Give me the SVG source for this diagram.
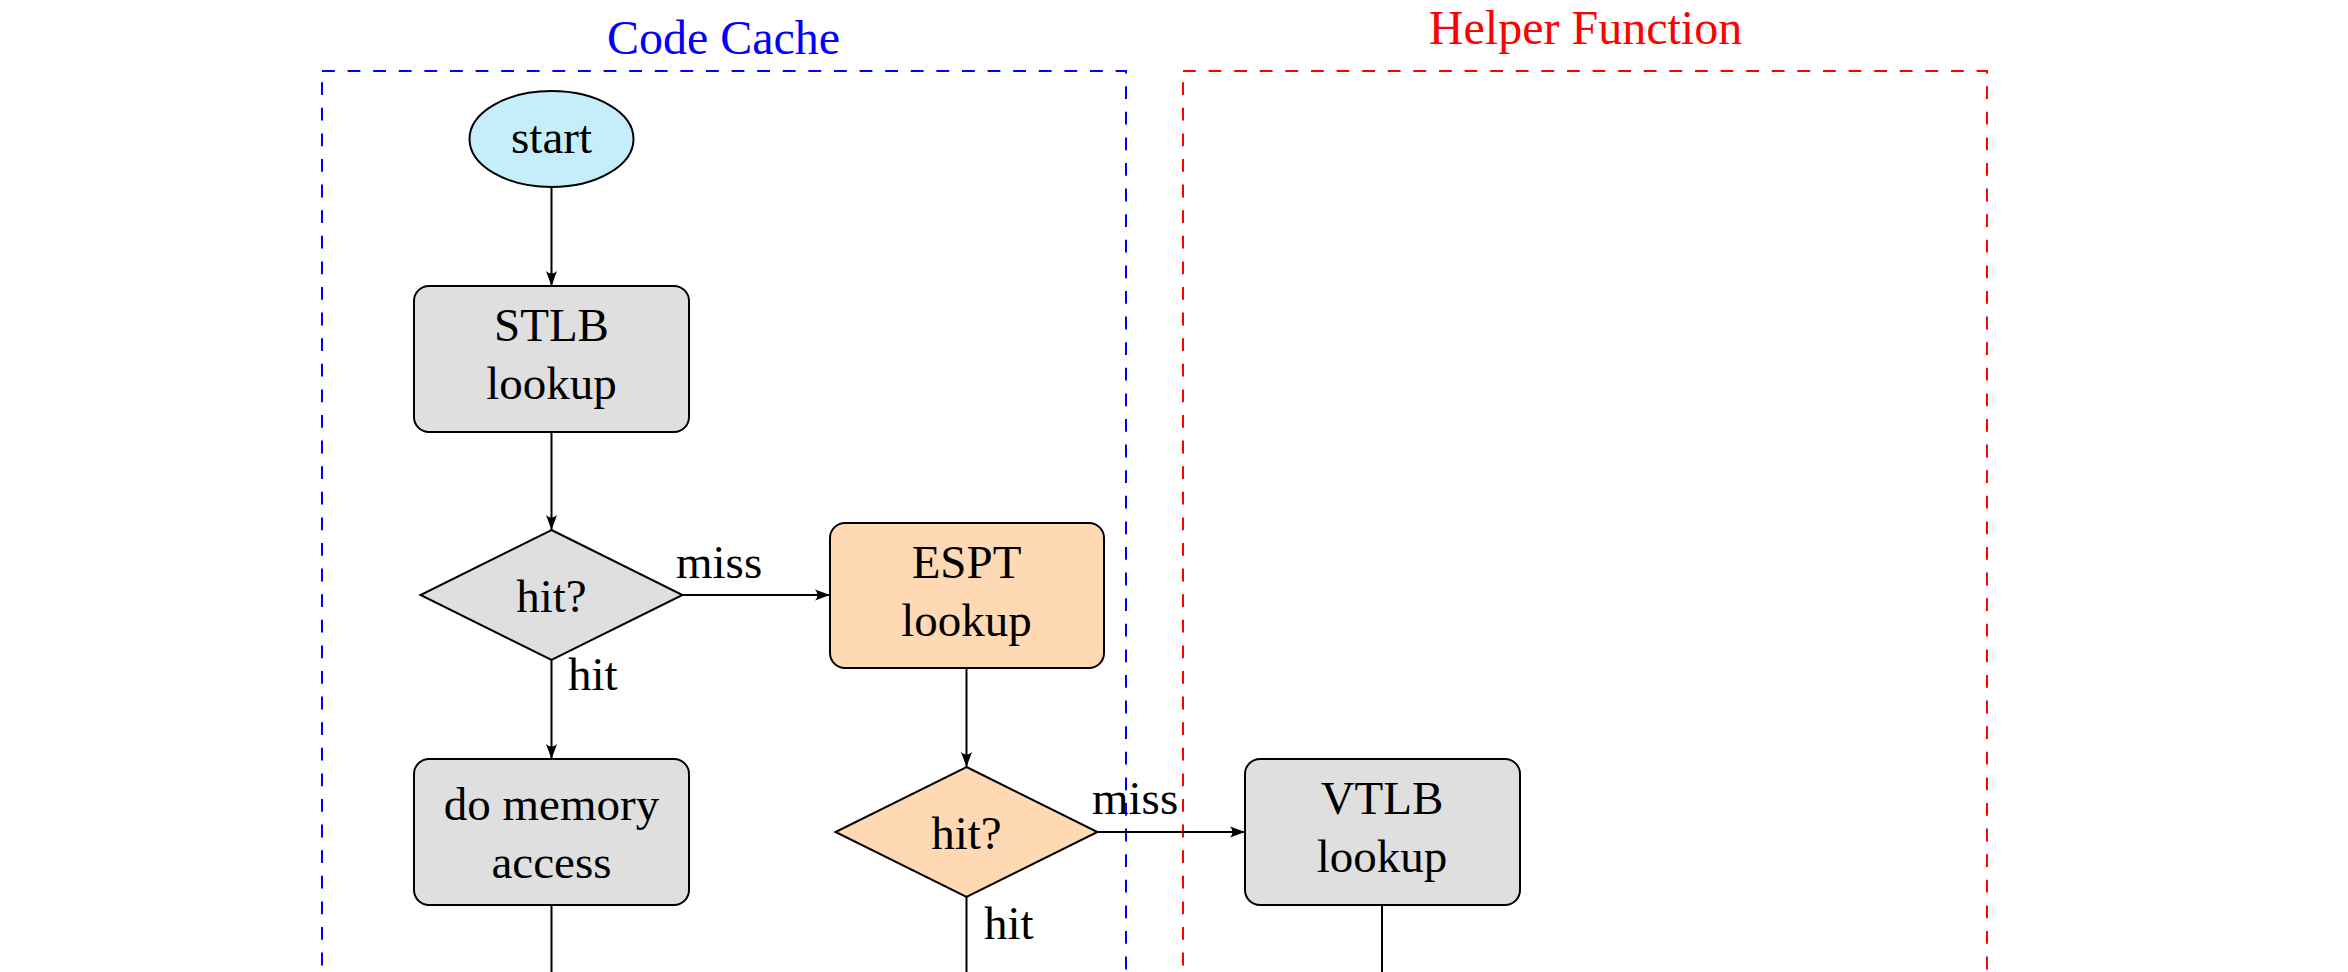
<svg xmlns="http://www.w3.org/2000/svg" width="2348" height="972" viewBox="0 0 2348 972">
<style>
text{font-family:"Liberation Serif","Times New Roman",serif;font-size:47px;fill:#000}
.title{font-size:48px;text-anchor:middle}
.c{text-anchor:middle}
.node{stroke:#000;stroke-width:2}
.gray{fill:#dfdfdf}
.orange{fill:#ffd9b3}
.cyan{fill:#c6eefa}
.edge{stroke:#000;stroke-width:2;fill:none}
.frame{fill:none;stroke-width:2;stroke-dasharray:12.8 12.8}
</style>
<defs>
<marker id="arr" viewBox="-16 -7 18 14" refX="0" refY="0" markerWidth="18" markerHeight="14" markerUnits="userSpaceOnUse" orient="auto">
<path d="M0,0 L-15,-5.5 Q-10,0 -15,5.5 Z" fill="#000"/>
</marker>
</defs>
<rect width="2348" height="972" fill="#fff"/>
<g id="codecache">
<rect class="frame" x="322" y="71" width="804" height="1000" stroke="#0000ff"/>
<text class="title" x="723.5" y="54" style="fill:#0000ff">Code Cache</text>
</g>
<g id="helper">
<rect class="frame" x="1183" y="71" width="804" height="1000" stroke="#ff0000"/>
<text class="title" x="1585.5" y="44" style="fill:#ff0000">Helper Function</text>
</g>
<g id="connectors">
<path class="edge" d="M551.5,187 V286" marker-end="url(#arr)"/>
<path class="edge" d="M551.5,432 V530" marker-end="url(#arr)"/>
<path class="edge" d="M682.5,595 H830" marker-end="url(#arr)"/>
<path class="edge" d="M551.5,660 V759" marker-end="url(#arr)"/>
<path class="edge" d="M966.5,668 V767" marker-end="url(#arr)"/>
<path class="edge" d="M1097.5,832 H1245" marker-end="url(#arr)"/>
<path class="edge" d="M551.5,905 V972"/>
<path class="edge" d="M966.5,897 V972"/>
<path class="edge" d="M1382,905 V972"/>
<text x="676" y="578">miss</text>
<text x="568" y="690">hit</text>
<text x="1092" y="814">miss</text>
<text x="984" y="939">hit</text>
</g>
<g id="start">
<ellipse class="node cyan" cx="551.5" cy="139" rx="82" ry="48"/>
<text class="c" x="551.5" y="153">start</text>
</g>
<g id="stlb">
<rect class="node gray" x="414" y="286" width="275" height="146" rx="15"/>
<text class="c" x="551.5" y="341">STLB</text>
<text class="c" x="551.5" y="399">lookup</text>
</g>
<g id="hit1">
<polygon class="node gray" points="551.5,530 682.5,595 551.5,660 420.5,595"/>
<text class="c" x="551.5" y="612">hit?</text>
</g>
<g id="espt">
<rect class="node orange" x="830" y="523" width="274" height="145" rx="15"/>
<text class="c" x="966.5" y="578">ESPT</text>
<text class="c" x="966.5" y="636">lookup</text>
</g>
<g id="memaccess">
<rect class="node gray" x="414" y="759" width="275" height="146" rx="15"/>
<text class="c" x="551.5" y="820">do memory</text>
<text class="c" x="551.5" y="878">access</text>
</g>
<g id="hit2">
<polygon class="node orange" points="966.5,767 1097.5,832 966.5,897 835.5,832"/>
<text class="c" x="966.5" y="849">hit?</text>
</g>
<g id="vtlb">
<rect class="node gray" x="1245" y="759" width="275" height="146" rx="15"/>
<text class="c" x="1382" y="814">VTLB</text>
<text class="c" x="1382" y="872">lookup</text>
</g>
</svg>
